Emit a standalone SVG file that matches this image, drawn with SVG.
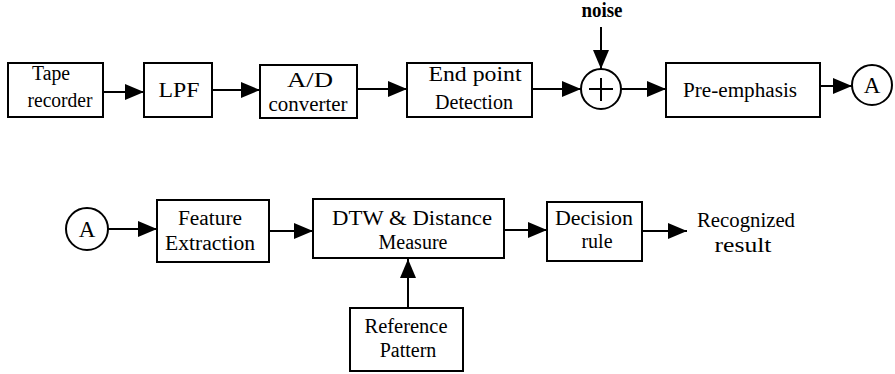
<svg xmlns="http://www.w3.org/2000/svg" width="895" height="374" viewBox="0 0 895 374">
<style>
.box{fill:#fff;stroke:#000;stroke-width:2}
.circ{fill:#fff;stroke:#000;stroke-width:2}
.t{font-family:"Liberation Serif","Times New Roman",serif;font-size:20px;fill:#000;text-anchor:middle}
.c{stroke:#000;stroke-width:2;fill:none}
</style>
<defs>
<marker id="ah" markerUnits="userSpaceOnUse" markerWidth="20" markerHeight="16" refX="19" refY="8" orient="auto">
<path d="M0,0 L19,8 L0,16 Z" fill="#000"/>
</marker>
</defs>
<rect width="895" height="374" fill="#fff"/>
<g id="connectors">
<line class="c" x1="103" y1="92" x2="144" y2="92" marker-end="url(#ah)"/>
<line class="c" x1="212" y1="90" x2="260" y2="90" marker-end="url(#ah)"/>
<line class="c" x1="357" y1="89" x2="407" y2="89" marker-end="url(#ah)"/>
<line class="c" x1="532" y1="89" x2="581" y2="89" marker-end="url(#ah)"/>
<line class="c" x1="601" y1="27" x2="601" y2="69" marker-end="url(#ah)"/>
<line class="c" x1="621" y1="89" x2="666" y2="89" marker-end="url(#ah)"/>
<line class="c" x1="820" y1="86" x2="852" y2="86" marker-end="url(#ah)"/>
<line class="c" x1="108" y1="229" x2="157" y2="229" marker-end="url(#ah)"/>
<line class="c" x1="269" y1="231" x2="313" y2="231" marker-end="url(#ah)"/>
<line class="c" x1="504" y1="230" x2="547" y2="230" marker-end="url(#ah)"/>
<line class="c" x1="642" y1="231" x2="687" y2="231" marker-end="url(#ah)"/>
<line class="c" x1="408" y1="308" x2="408" y2="259" marker-end="url(#ah)"/>
</g>
<g id="tape">
<rect class="box" x="8" y="63" width="95" height="54"/>
<text class="t" x="51" y="80" textLength="38" lengthAdjust="spacingAndGlyphs">Tape</text>
<text class="t" x="60" y="107" textLength="65" lengthAdjust="spacingAndGlyphs">recorder</text>
</g>
<g id="lpf">
<rect class="box" x="144" y="63" width="68" height="54"/>
<text class="t" x="179" y="97" textLength="41" lengthAdjust="spacingAndGlyphs">LPF</text>
</g>
<g id="ad">
<rect class="box" x="260" y="65" width="97" height="53"/>
<text class="t" x="310" y="87" textLength="46" lengthAdjust="spacingAndGlyphs">A/D</text>
<text class="t" x="308" y="111" textLength="79" lengthAdjust="spacingAndGlyphs">converter</text>
</g>
<g id="endpoint">
<rect class="box" x="407" y="63" width="125" height="54"/>
<text class="t" x="475" y="81" textLength="93" lengthAdjust="spacingAndGlyphs">End point</text>
<text class="t" x="474" y="109" textLength="78" lengthAdjust="spacingAndGlyphs">Detection</text>
</g>
<g id="sum">
<circle class="circ" cx="601" cy="89" r="20"/>
<line class="c" x1="589" y1="89" x2="613" y2="89"/>
<line class="c" x1="601" y1="78" x2="601" y2="101"/>
</g>
<g id="noise">
<text class="t" x="602" y="17" font-weight="bold" textLength="41" lengthAdjust="spacingAndGlyphs">noise</text>
</g>
<g id="preemphasis">
<rect class="box" x="666" y="63" width="154" height="54"/>
<text class="t" x="740" y="97" textLength="114" lengthAdjust="spacingAndGlyphs">Pre-emphasis</text>
</g>
<g id="a1">
<circle class="circ" cx="872" cy="85" r="20"/>
<text class="t" x="872" y="93" style="font-size:23px">A</text>
</g>
<g id="a2">
<circle class="circ" cx="87" cy="229" r="21"/>
<text class="t" x="87" y="237" style="font-size:23px">A</text>
</g>
<g id="feature">
<rect class="box" x="157" y="200" width="112" height="62"/>
<text class="t" x="210" y="225" textLength="64" lengthAdjust="spacingAndGlyphs">Feature</text>
<text class="t" x="210" y="250" textLength="90" lengthAdjust="spacingAndGlyphs">Extraction</text>
</g>
<g id="dtw">
<rect class="box" x="313" y="199" width="191" height="59"/>
<text class="t" x="412" y="225" textLength="160" lengthAdjust="spacingAndGlyphs">DTW &amp; Distance</text>
<text class="t" x="413" y="249">Measure</text>
</g>
<g id="decision">
<rect class="box" x="547" y="202" width="95" height="59"/>
<text class="t" x="594" y="225" textLength="78" lengthAdjust="spacingAndGlyphs">Decision</text>
<text class="t" x="597" y="248">rule</text>
</g>
<g id="result">
<text class="t" x="746" y="227" textLength="98" lengthAdjust="spacingAndGlyphs">Recognized</text>
<text class="t" x="743" y="252" textLength="57" lengthAdjust="spacingAndGlyphs">result</text>
</g>
<g id="reference">
<rect class="box" x="350" y="308" width="113" height="63"/>
<text class="t" x="406" y="333" textLength="83" lengthAdjust="spacingAndGlyphs">Reference</text>
<text class="t" x="408" y="357">Pattern</text>
</g>
</svg>
